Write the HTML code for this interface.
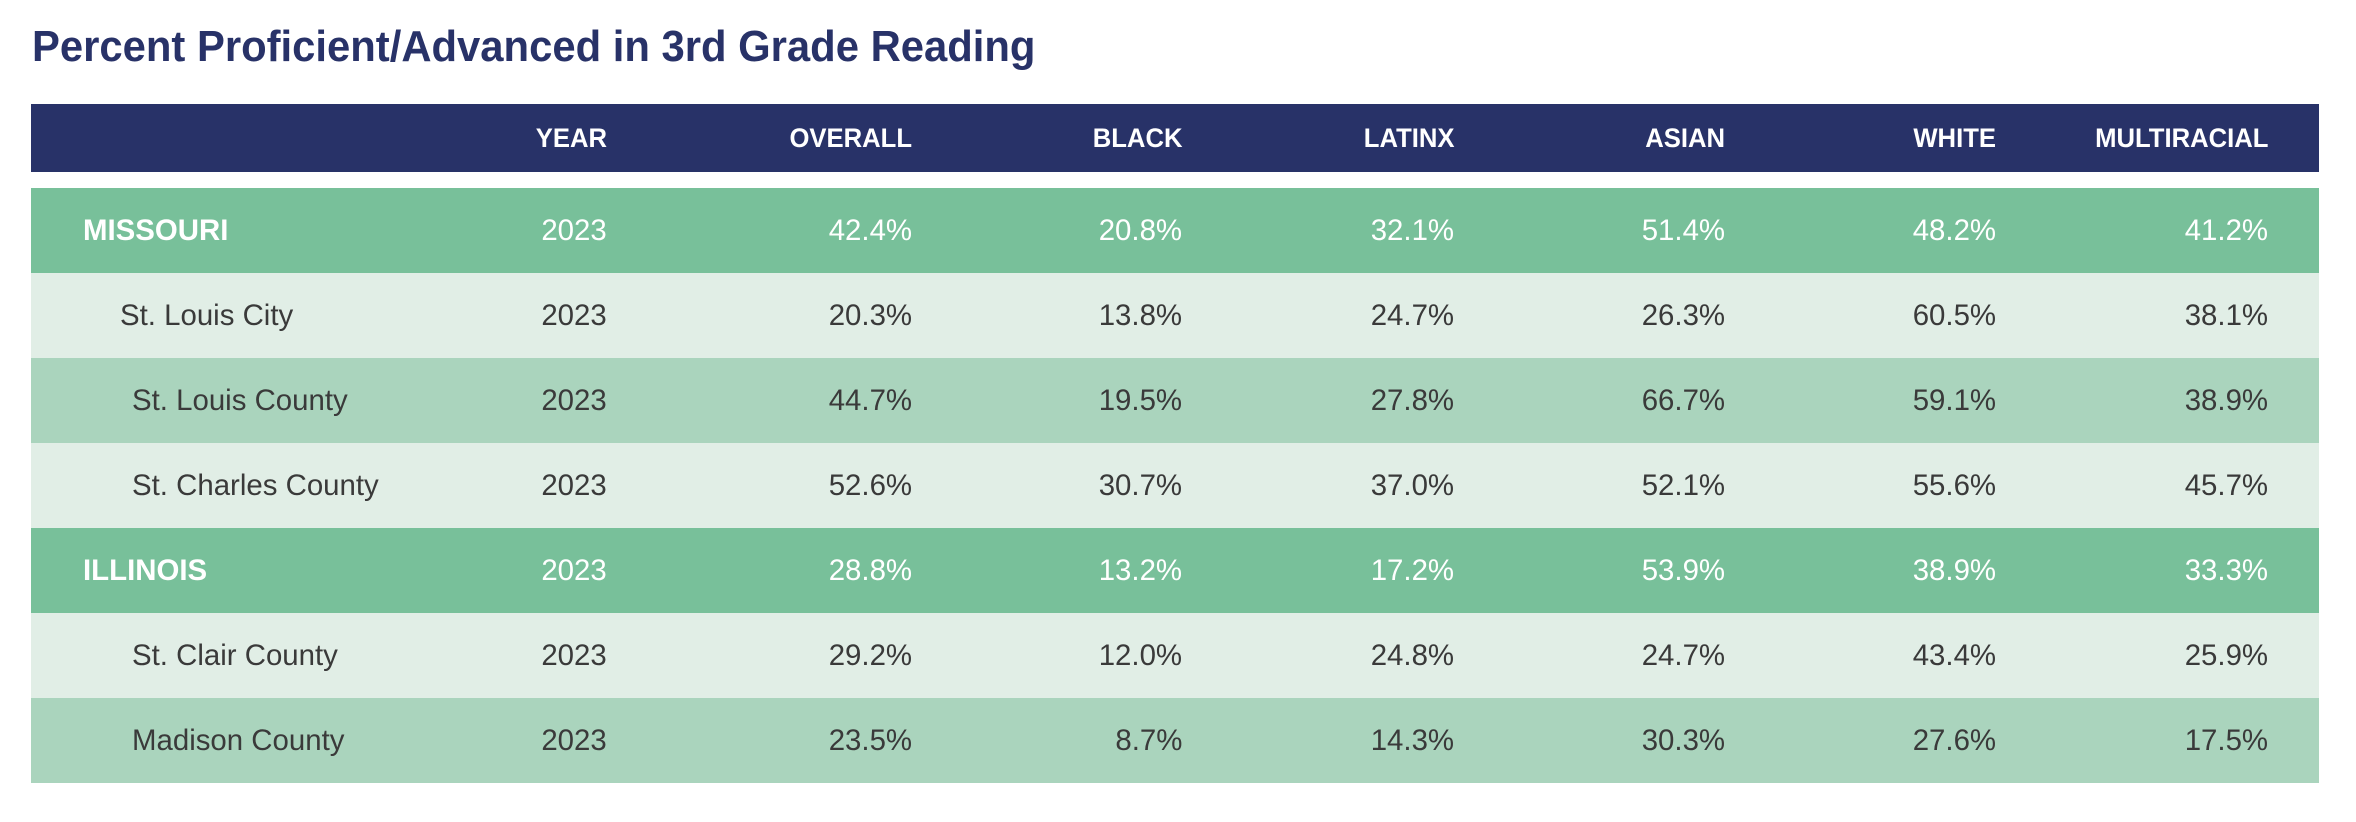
<!DOCTYPE html>
<html><head><meta charset="utf-8"><style>
html,body{margin:0;padding:0;background:#fff;}
body{width:2356px;height:822px;position:relative;overflow:hidden;font-family:"Liberation Sans",sans-serif;}
.t{position:absolute;left:32px;top:22px;font-size:44px;font-weight:bold;color:#283268;transform:scaleX(0.95);transform-origin:left top;white-space:nowrap;}
.hdr{position:absolute;left:31px;width:2288px;top:104px;height:68px;background:#283268;}
.row{position:absolute;left:31px;width:2288px;height:85px;}
.c{position:absolute;top:0;height:100%;display:flex;align-items:center;white-space:nowrap;font-size:30px;transform:scaleX(0.98);}
.r{justify-content:flex-end;transform-origin:right center;}
.l{transform-origin:left center;}
.h .c{color:#fff;font-weight:bold;font-size:27px;transform:scaleX(0.95);}
.d{background:#78c09a;color:#fff;}
.d .l{font-weight:bold;}
.a{background:#e1eee6;color:#3a3a3a;}
.b{background:#aad4bd;color:#3a3a3a;}
</style></head><body>
<div class="t">Percent Proficient/Advanced in 3rd Grade Reading</div>
<div class="hdr h" id="hdr"></div>
<div id="rows"></div>
<script>
var rights=[607,912,1182,1454,1725,1996,2268];
function cells(vals){var s='';for(var i=0;i<7;i++){s+='<div class="c r" style="right:'+(2319-rights[i])+'px">'+vals[i]+'</div>';}return s;}
document.getElementById('hdr').innerHTML=cells(['YEAR','OVERALL','BLACK','LATINX','ASIAN','WHITE','MULTIRACIAL']);
var data=[
['d',83,'MISSOURI',['2023','42.4%','20.8%','32.1%','51.4%','48.2%','41.2%']],
['a',120,'St. Louis City',['2023','20.3%','13.8%','24.7%','26.3%','60.5%','38.1%']],
['b',132,'St. Louis County',['2023','44.7%','19.5%','27.8%','66.7%','59.1%','38.9%']],
['a',132,'St. Charles County',['2023','52.6%','30.7%','37.0%','52.1%','55.6%','45.7%']],
['d',83,'ILLINOIS',['2023','28.8%','13.2%','17.2%','53.9%','38.9%','33.3%']],
['a',132,'St. Clair County',['2023','29.2%','12.0%','24.8%','24.7%','43.4%','25.9%']],
['b',132,'Madison County',['2023','23.5%','8.7%','14.3%','30.3%','27.6%','17.5%']]];
var h='';
for(var i=0;i<data.length;i++){var d=data[i];
h+='<div class="row '+d[0]+'" style="top:'+(188+i*85)+'px"><div class="c l" style="left:'+(d[1]-31)+'px">'+d[2]+'</div>'+cells(d[3])+'</div>';}
document.getElementById('rows').innerHTML=h;
</script>
</body></html>
